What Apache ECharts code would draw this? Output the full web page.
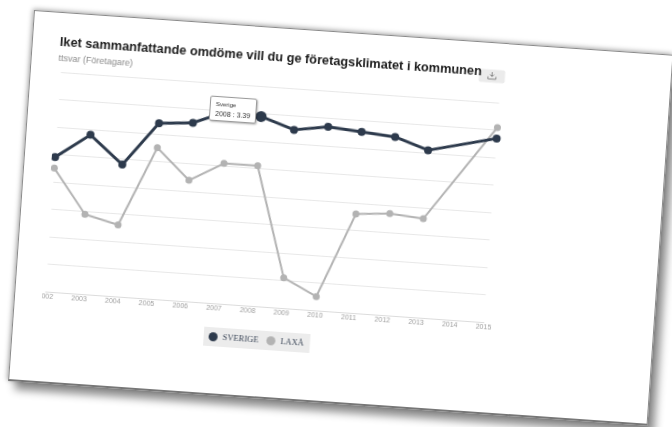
<!DOCTYPE html>
<html>
<head>
<meta charset="utf-8">
<script src="https://cdn.jsdelivr.net/npm/echarts@6/dist/echarts.min.js"></script>
<style>
html,body{margin:0;padding:0;background:#fff;width:672px;height:427px;overflow:hidden}
#frame{position:absolute;left:34px;top:10px;width:641px;height:372px;box-sizing:border-box;background:#fff;
  border:1px solid #8a8a8a;border-bottom:2px solid #777;transform-origin:0 0;transform:rotate(4deg);
  box-shadow:7px 8px 9px rgba(0,0,0,0.45),-1px -1px 5px rgba(0,0,0,0.35);}
#clip{position:absolute;left:27px;top:0;right:0;bottom:0;overflow:hidden}
#chart{position:absolute;left:-128px;top:-1px;width:741px;height:372px}
</style>
</head>
<body>
<div id="frame"><div id="clip"><div id="chart"></div></div></div>
<script>
// ---- data ----
const titleText = 'Vilket sammanfattande omdöme vill du ge företagsklimatet i kommunen';
const subtitleText = 'Snittsvar (Företagare)';
const years = ['2002','2003','2004','2005','2006','2007','2008','2009','2010','2011','2012','2013','2014','2015'];
const sverige = [3.19, 3.28, 3.18, 3.34, 3.35, 3.40, 3.39, 3.35, 3.37, 3.36, 3.35, 3.31, null, 3.37];
const laxa    = [3.15, 2.99, 2.96, 3.25, 3.14, 3.21, 3.21, 2.81, 2.75, 3.06, 3.07, 3.06, null, 3.41];
const seriesNames = ['Sverige', 'Laxå'];
const yMin = 2.7, yMax = 3.5, yStep = 0.1;
const hoverIndex = 6;

const chart = echarts.init(document.getElementById('chart'), null, {renderer: 'canvas'});
const W = 741, H = 372, OX = 100;
chart.setOption({
  animation: false,
  title: [
    {text: titleText, left: OX + 16.2, top: 23.6, padding: 0,
     textStyle: {fontFamily: 'Liberation Sans', fontWeight: 'bold', fontSize: 12.75, color: '#1c1c1c'}},
    {text: subtitleText, left: OX + 14.8, top: 42.5, padding: 0,
     textStyle: {fontFamily: 'Liberation Sans', fontWeight: 'normal', fontSize: 9, color: '#8c8c8c'}}
  ],
  grid: {left: OX + 31.3, right: W - (OX + 470.5), top: 60.2, bottom: H - 279.9, containLabel: false},
  xAxis: {
    type: 'category', data: years, boundaryGap: false,
    axisLine: {lineStyle: {color: '#dcdcdc', width: 1}},
    axisTick: {show: false},
    axisLabel: {fontFamily: 'Liberation Sans', fontSize: 7, color: '#a0a0a0', margin: 1.5, interval: 0}
  },
  yAxis: {
    type: 'value', min: yMin, max: yMax, interval: yStep,
    axisLabel: {show: false}, axisLine: {show: false}, axisTick: {show: false},
    splitLine: {lineStyle: {color: '#e8e8e8', width: 1}}
  },
  legend: {
    left: OX + 192, top: 304, padding: [5, 6, 5, 5], backgroundColor: '#ececec',
    icon: 'circle', itemWidth: 9, itemHeight: 9, itemGap: 8,
    formatter: n => n.toUpperCase(),
    textStyle: {fontFamily: 'Liberation Serif', fontSize: 8.5, color: '#3d4859'},
    data: seriesNames
  },
  tooltip: {
    trigger: 'item', alwaysShowContent: true, transitionDuration: 0,
    backgroundColor: '#ffffff', borderColor: '#9a9a9a', borderWidth: 1, padding: [2, 5],
    extraCssText: 'box-shadow:1px 1px 2px rgba(0,0,0,0.3);border-radius:2px;line-height:9px;',
    textStyle: {fontFamily: 'Liberation Sans', fontSize: 7, color: '#333'},
    formatter: p => '<span style="font-size:6px">' + p.seriesName + '</span><br/>' + p.name + ' : ' + p.value,
    position: (pt) => [pt[0] - 52, pt[1] - 17]
  },
  series: [
    {name: seriesNames[0], type: 'line', data: sverige, connectNulls: true, z: 3,
     color: '#2d3a4c', symbol: 'circle',
     symbolSize: (v, p) => p.dataIndex === hoverIndex ? 11 : 8,
     lineStyle: {width: 3, color: '#2d3a4c'}, itemStyle: {color: '#2d3a4c'}},
    {name: seriesNames[1], type: 'line', data: laxa, connectNulls: true, z: 2,
     color: '#b3b3b3', symbol: 'circle', symbolSize: 7,
     lineStyle: {width: 2, color: '#b3b3b3'}, itemStyle: {color: '#b3b3b3'}}
  ],
  graphic: [
    {type: 'group', left: OX + 448.5, top: 27.5, children: [
      {type: 'rect', shape: {x: 0, y: 0, width: 26, height: 13, r: 2}, style: {fill: '#ebebeb'}},
      {type: 'polyline', shape: {points: [[9, 7], [9, 9.5], [17, 9.5], [17, 7]]}, style: {stroke: '#8a8a8a', lineWidth: 1, fill: null}},
      {type: 'polyline', shape: {points: [[13, 2.5], [13, 7]]}, style: {stroke: '#8a8a8a', lineWidth: 1, fill: null}},
      {type: 'polyline', shape: {points: [[11, 5], [13, 7], [15, 5]]}, style: {stroke: '#8a8a8a', lineWidth: 1, fill: null}}
    ]}
  ]
});
chart.dispatchAction({type: 'showTip', seriesIndex: 0, dataIndex: hoverIndex});
</script>
</body>
</html>
